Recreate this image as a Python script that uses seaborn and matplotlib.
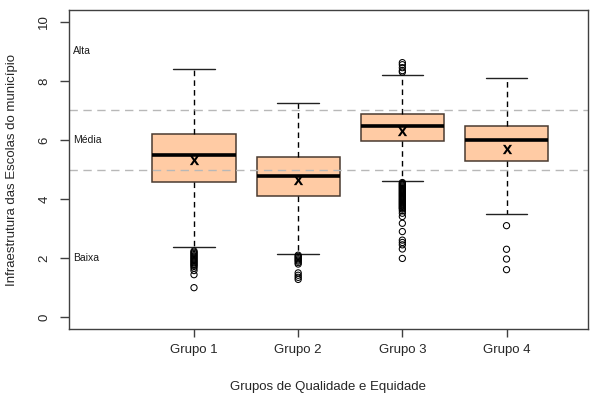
import matplotlib
matplotlib.use("Agg")
import matplotlib.pyplot as plt
import seaborn as sns
import pandas as pd

# valores
grupos = ["Grupo 1", "Grupo 2", "Grupo 3", "Grupo 4"]
whis_lo = [2.39, 2.15, 4.60, 3.50]
q1 = [4.59, 4.09, 5.96, 5.30]
medianas = [5.49, 4.78, 6.47, 5.99]
q3 = [6.19, 5.44, 6.88, 6.49]
whis_hi = [8.42, 7.25, 8.20, 8.11]
medias = [5.34, 4.64, 6.32, 5.70]

out_g1 = [2.24, 2.20, 2.16, 2.12, 2.08, 2.04, 2.00, 1.96, 1.92, 1.88, 1.84, 1.80,
          1.76, 1.72, 1.66, 1.58, 1.44, 1.0]
out_g2 = [2.10, 2.06, 2.02, 1.98, 1.94, 1.90, 1.85, 1.80, 1.50, 1.42, 1.35, 1.28]
out_g3 = [8.30, 8.35, 8.45, 8.55, 8.62,
          4.56, 4.53, 4.50, 4.47, 4.44, 4.41, 4.38, 4.35, 4.32, 4.29, 4.26, 4.23,
          4.20, 4.17, 4.14, 4.11, 4.08, 4.05, 4.02, 3.99, 3.96, 3.93, 3.90, 3.87,
          3.84, 3.81, 3.78, 3.75, 3.72, 3.69, 3.66, 3.60, 3.52, 3.41, 3.18, 2.90,
          2.61, 2.53, 2.45, 2.31, 1.99]
out_g4 = [3.10, 2.30, 1.97, 1.61]

niveis = ["Alta", "Média", "Baixa"]
niveis_y = [9, 6, 2]
cortes = [5, 7]

sns.set_style("ticks")
plt.rcParams['font.family'] = ['Liberation Sans', 'DejaVu Sans']

fig, ax = plt.subplots(figsize=(6.01, 4.03), dpi=100)
fig.subplots_adjust(left=0.1148, right=0.978, bottom=0.1836, top=0.975)

pos = [1, 2, 3, 4]
stats = []
for i in range(4):
    stats.append(dict(med=medianas[i], q1=q1[i], q3=q3[i],
                      whislo=whis_lo[i], whishi=whis_hi[i], fliers=[]))

ax.bxp(stats, positions=pos, widths=0.8, capwidths=0.4, showfliers=False,
       patch_artist=True, manage_ticks=False,
       boxprops=dict(facecolor="#FFCBA4", edgecolor="#4a3b30", linewidth=1.1),
       whiskerprops=dict(color="black", linewidth=1, linestyle=(0, (4, 3))),
       capprops=dict(color="#222222", linewidth=1),
       medianprops=dict(color="black", linewidth=2.6))

for c in cortes:
    ax.axhline(c, color="#b8b8b8", linewidth=1, linestyle=(0, (6, 4)), zorder=2.5)

outs = [out_g1, out_g2, out_g3, out_g4]
df_out = pd.DataFrame({
    "pos": [p for p, o in zip(pos, outs) for _ in o],
    "valor": [v for o in outs for v in o],
})
sns.scatterplot(data=df_out, x="pos", y="valor", marker="o", s=20,
                color="black", linewidth=0.75, ax=ax, zorder=4, legend=False)
ax.collections[-1].set_facecolor("none")
ax.collections[-1].set_edgecolor("black")

df_med = pd.DataFrame({"pos": pos, "media": medias})
sns.scatterplot(data=df_med, x="pos", y="media", marker=r"$\mathbf{X}$", s=45,
                color="black", linewidth=0, ax=ax, zorder=5, legend=False)

for t, y in zip(niveis, niveis_y):
    ax.text(-0.16, y, t, ha="left", va="center", fontsize=7.5, color="#1a1a1a")

ax.set_xlim(-0.2, 4.78)
ax.set_ylim(-0.4, 10.4)
ax.set_xticks(pos)
ax.set_xticklabels(grupos, fontsize=9.5)
ax.set_yticks([0, 2, 4, 6, 8, 10])
ax.set_yticklabels(["0", "2", "4", "6", "8", "10"], fontsize=9.5, rotation=90, va="center")
ax.tick_params(axis="y", length=6.5, width=1, pad=7, color="#404040")
ax.tick_params(axis="x", length=6, width=1, pad=5, color="#404040")

for s in ax.spines.values():
    s.set_visible(True)
    s.set_color("#404040")
    s.set_linewidth(1)

ax.set_xlabel("Grupos de Qualidade e Equidade", fontsize=9.5)
ax.set_ylabel("Infraestrutura das Escolas do município", fontsize=9.5)
ax.xaxis.set_label_coords(0.5, -0.163)
ax.yaxis.set_label_coords(-0.098, 0.5)

fig.savefig("out.png", dpi=100)
